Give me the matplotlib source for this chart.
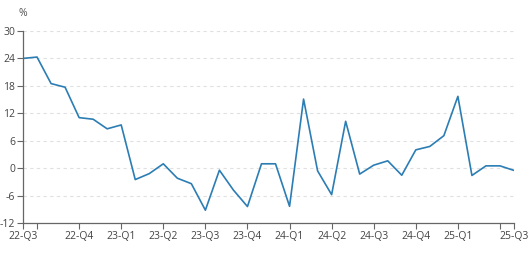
import matplotlib
matplotlib.use('Agg')
from matplotlib import pyplot as plt

# Variação mensal (%) - 36 pontos
valores = [24.0, 24.3, 18.5, 17.7, 11.05, 10.7, 8.6, 9.45, -2.5, -1.2,
           0.95, -2.2, -3.4, -9.2, -0.45, -4.8, -8.4, 0.95, 0.95, -8.35,
           15.1, -0.6, -5.8, 10.25, -1.3, 0.65, 1.6, -1.55, 4.0, 4.75,
           7.1, 15.7, -1.6, 0.5, 0.5, -0.5]

# Marcas do eixo x (posição do ponto -> rótulo)
tick_pos = [0, 1, 4, 7, 10, 13, 16, 19, 22, 25, 28, 31, 34, 35]
tick_lab = ['22-Q3', '', '22-Q4', '23-Q1', '23-Q2', '23-Q3', '23-Q4',
            '24-Q1', '24-Q2', '24-Q3', '24-Q4', '25-Q1', '', '25-Q3']

y_ticks = [-12, -6, 0, 6, 12, 18, 24, 30]

plt.rcParams['font.family'] = ['Open Sans', 'DejaVu Sans']

fig = plt.figure(figsize=(5.29, 2.54), dpi=100)
ax = fig.add_axes([23 / 529, 1 - 223 / 254, (514 - 23) / 529, (223 - 31) / 254])

ax.plot(range(len(valores)), valores, color='#2b7db4', linewidth=1.2)

ax.set_xlim(0, len(valores) - 1)
ax.set_ylim(-12, 30)
ax.set_yticks(y_ticks)
ax.set_yticklabels([str(v) for v in y_ticks])
ax.set_xticks(tick_pos)
ax.set_xticklabels(tick_lab)

ax.grid(axis='y', color='#e0e0e0', linestyle=(0, (3, 3)), linewidth=0.8)
ax.set_axisbelow(True)

for s in ['top', 'right']:
    ax.spines[s].set_visible(False)
for s in ['left', 'bottom']:
    ax.spines[s].set_color('#666666')
    ax.spines[s].set_linewidth(0.9)

ax.tick_params(axis='both', colors='#666666', labelcolor='#444444',
               labelsize=7.5, length=4, width=0.8, pad=1.5)

ax.text(-0.0, 1.06, '%', transform=ax.transAxes, ha='center', va='bottom',
        fontsize=7.5, color='#555555')

fig.savefig('out.png', dpi=100)
